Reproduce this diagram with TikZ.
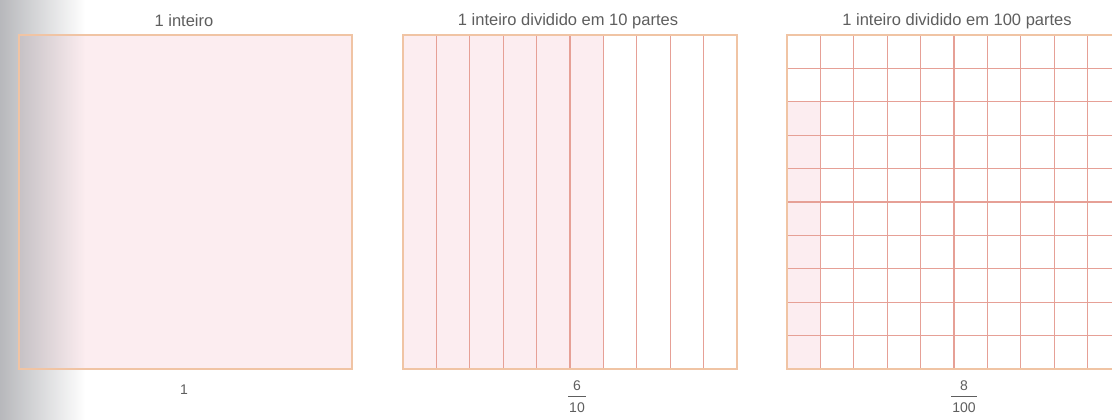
\documentclass[tikz,border=0pt]{standalone}
\usepackage{fontspec}
\usepackage{array}
\setmainfont{Liberation Sans}
\usetikzlibrary{fadings}
\tikzfading[name=leftfade, left color=transparent!0, right color=transparent!100]
\definecolor{gridline}{HTML}{E6A096}
\definecolor{edgecol}{HTML}{F0C4A4}
\definecolor{shadecol}{HTML}{FCEDF0}
\definecolor{txt}{HTML}{5E5E5E}
\definecolor{scan}{HTML}{ABACB0}
\setlength{\tabcolsep}{1pt}
\setlength{\extrarowheight}{4pt}
\setlength{\arrayrulewidth}{0.9pt}
\begin{document}
\begin{tikzpicture}[x=1pt,y=-1pt,
  lbl/.style={text=txt, font=\fontsize{16.5}{19}\selectfont, inner sep=0pt, anchor=center},
  fraclbl/.style={text=txt, font=\fontsize{14}{17}\selectfont, inner sep=0pt, anchor=center},
  divline/.style={draw=gridline, line width=1.3pt},
  outer/.style={draw=edgecol, line width=1.3pt}]
\clip (0,0) rectangle (1112,420);
\fill[white] (0,0) rectangle (1112,420);
% square 1 : one whole
\fill[shadecol] (19,35) rectangle (352,369);
\fill[scan, path fading=leftfade, fill opacity=0.85] (0,0) rectangle (85,420);
\draw[outer] (19,35) rectangle (352,369);
% square 2 : ten strips, six shaded
\fill[shadecol] (403,35) rectangle (603.4,369);
\foreach \i in {1,...,9}
  \draw[divline] (403+\i*33.4,35) -- (403+\i*33.4,369);
\draw[outer] (403,35) rectangle (737,369);
% square 3 : hundred cells, eight shaded
\fill[shadecol] (787,101.8) rectangle (820.4,369);
\foreach \i in {1,...,9} {
  \draw[divline] (787+\i*33.4,35) -- (787+\i*33.4,369);
  \draw[divline] (787,35+\i*33.4) -- (1121,35+\i*33.4);
}
\draw[outer] (787,35) rectangle (1121,369);
% titles
\node[lbl] (t1) at (184,21) {1 inteiro};
\node[lbl] (t2) at (568,21) {1 inteiro dividido em 10 partes};
\node[lbl] (t3) at (957,21) {1 inteiro dividido em 100 partes};
% values
\node[fraclbl] (b1) at (184,390) {1};
\node[fraclbl] (b2) at (577,396) {\begin{tabular}{c}6\\\hline 10\end{tabular}};
\node[fraclbl] (b3) at (964,396) {\begin{tabular}{c}8\\\hline 100\end{tabular}};
\end{tikzpicture}
\end{document}
